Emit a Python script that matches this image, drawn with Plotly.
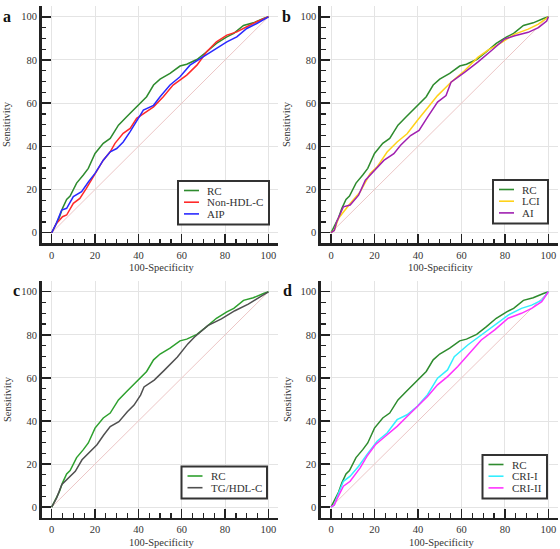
import plotly.graph_objects as go

# ---------------- data ----------------
rc_x = [0, 2, 3.5, 5, 6.9, 8.5, 11.5, 14.6, 16.9, 20, 23.8, 27, 29, 30.8, 34.6, 37.7, 40.8, 43.8, 47, 50, 54.6, 59.2, 62.3, 67, 71.5, 76, 80.8, 84, 88.5, 93, 97.7, 100]
rc_y = [0, 4, 7, 11.3, 15.4, 17, 23, 26.7, 29.8, 36.7, 41.4, 43.7, 46.8, 49.8, 53.7, 56.8, 60.2, 63, 68.4, 71.1, 73.8, 77.2, 78, 80.2, 83.8, 87.7, 90.7, 92.3, 96, 97.2, 99.2, 100]

nonhdl_x = [0, 2, 5, 6.9, 10, 13, 16, 20, 23.8, 27, 29.2, 33, 36.2, 39.2, 42.3, 47, 51.5, 56, 62.3, 67, 71.5, 76, 80.8, 85.4, 90, 94.6, 100]
nonhdl_y = [0, 4, 7.4, 8.2, 13.6, 15.9, 20.5, 27.5, 33.6, 37.5, 41.4, 46, 48.3, 53, 55.2, 58.3, 63, 68.4, 73, 77.6, 83.8, 88.4, 91.5, 93, 95.4, 97.7, 100]

aip_x = [0, 2, 4.6, 6.9, 10, 13.8, 17, 20, 23.8, 27, 30, 33, 36.2, 40, 42.3, 47, 50, 54.6, 59.2, 63.8, 68.5, 74.6, 80.8, 85.4, 90, 94.6, 100]
aip_y = [0, 4, 10.5, 11.3, 16.7, 19, 23.6, 27.5, 33.6, 37.5, 39, 42, 46.8, 53, 56.8, 59, 63, 68.4, 72.2, 77.6, 80.7, 84.6, 88.4, 90.7, 94.6, 96.9, 100]

lci_x = [0, 1.5, 3.4, 5.7, 8.8, 13.4, 18, 21.2, 25.8, 30.4, 35, 39.7, 44.4, 49, 55.2, 61.4, 67.5, 72.2, 78.4, 84.5, 90.7, 95.4, 100]
lci_y = [0, 1, 6.6, 9.7, 13.5, 18.9, 27.4, 30.5, 37.4, 42, 45.8, 52, 58, 63.5, 69.7, 75, 81.2, 84.6, 88, 92, 94.3, 96.6, 100]

ai_x = [0, 1.5, 2.6, 5.7, 8.8, 12.7, 15.8, 19.6, 24.3, 28.9, 32, 36.6, 40.5, 44.4, 49, 52.9, 55.2, 61.4, 67.5, 73.7, 79.9, 84.5, 90.7, 95.4, 99.2, 100]
ai_y = [0, 1, 5, 12, 12.8, 17.4, 24.3, 28.2, 33.5, 36.6, 40.5, 45, 47.4, 53.5, 60.5, 63.5, 69.7, 74.3, 79, 84.3, 89.7, 91.2, 92.8, 95, 98, 100]

tghdl_x = [0, 2.3, 4.7, 7.8, 10.9, 14, 17, 20.9, 24, 27, 31, 34.9, 38, 41, 42.6, 47.3, 51.9, 58, 62.8, 65.9, 72, 78.3, 84.5, 90.7, 96.9, 100]
tghdl_y = [0, 4.3, 10.5, 13.5, 16.6, 22, 25, 29, 33.5, 37.4, 39.7, 44.3, 47.4, 52, 55.8, 59, 63.5, 69.7, 75.8, 79, 84.3, 87.4, 91.2, 94.3, 98.1, 100]

cri1_x = [0, 1.5, 2.6, 5.7, 8.8, 12.7, 16.5, 21.2, 25.8, 30.4, 35, 39.7, 44.4, 49, 53.6, 56.7, 62.9, 69.1, 75.3, 81.5, 87.6, 92.3, 96.9, 100]
cri1_y = [0, 1, 4.3, 12, 14.4, 19, 24.4, 30.6, 34.4, 40.6, 42.9, 46.8, 52.2, 59.9, 63.7, 69.9, 75.3, 80, 84.6, 89.2, 92.3, 93.8, 96.1, 100]

cri2_x = [0, 1.5, 2.6, 5.7, 8.8, 13.4, 16.5, 20.4, 25, 30.4, 35, 39.7, 44.4, 49, 53.6, 58.3, 62.9, 69.1, 75.3, 81.5, 87.6, 92.3, 96.9, 100]
cri2_y = [0, 1, 3.5, 9.7, 12, 18.2, 23.6, 29, 32.9, 37.5, 42.1, 46.8, 51.4, 56.8, 60.6, 65.3, 70.7, 77.6, 82.3, 87.7, 90, 92.3, 95.4, 100]

ref_line = [0, 100]

tick_vals = [0, 20, 40, 60, 80, 100]
tick_text = ["0", "20", "40", "60", "80", "100"]

panels = [
    ("a", [("RC", rc_x, rc_y, "#2e8b2e"), ("Non-HDL-C", nonhdl_x, nonhdl_y, "#ff2a2a"), ("AIP", aip_x, aip_y, "#2a2aff")]),
    ("b", [("RC", rc_x, rc_y, "#2e8b2e"), ("LCI", lci_x, lci_y, "#ffd21a"), ("AI", ai_x, ai_y, "#a020b0")]),
    ("c", [("RC", rc_x, rc_y, "#2ea02e"), ("TG/HDL-C", tghdl_x, tghdl_y, "#505050")]),
    ("d", [("RC", rc_x, rc_y, "#2e8b2e"), ("CRI-I", cri1_x, cri1_y, "#33eeff"), ("CRI-II", cri2_x, cri2_y, "#ff33ff")]),
]

# ---------------- layout geometry (pixels) ----------------
W, H = 560, 549
xdom_px = [(41.7, 278), (321, 558)]
ydom_px = [(6, 243.3), (281, 517.7)]
# legend boxes: left, top, right (px)
legend_box = [(178, 181, 269), (493, 180, 548), (181.5, 466.5, 267), (482.5, 455, 547)]
letter_pos = [(7, 16.5), (286, 16.5), (16, 290), (287, 290)]
xtitle_pos = [(161, 267), (440, 267), (161, 542), (441, 542)]
ytitle_pos = [(7, 124), (287, 124), (7, 399), (287, 399)]

FONT = "Liberation Serif"
FS = 10.5
TXT = "#333"

def px(x):
    return x / W

def py(y):
    return 1 - y / H

fig = go.Figure()
layout = dict(
    width=W, height=H,
    margin=dict(l=0, r=0, t=0, b=0, autoexpand=False),
    paper_bgcolor="white", plot_bgcolor="white",
    font=dict(family=FONT, size=FS, color=TXT),
    showlegend=False,
)

annotations = []
shapes = []
for i, (letter, series) in enumerate(panels):
    r, c = divmod(i, 2)
    ax = "" if i == 0 else str(i + 1)
    xa, ya = "x" + ax, "y" + ax
    fig.add_trace(go.Scatter(x=ref_line, y=ref_line, mode="lines",
                             line=dict(color="#ecc6c6", width=1),
                             xaxis=xa, yaxis=ya, hoverinfo="skip"))
    for name, sx, sy, col in series:
        fig.add_trace(go.Scatter(x=sx, y=sy, mode="lines", name=name,
                                 line=dict(color=col, width=1.5),
                                 xaxis=xa, yaxis=ya))
    axis_common = dict(
        tickvals=tick_vals, ticktext=tick_text,
        showgrid=True, gridcolor="#e4e4e4", gridwidth=1, zeroline=False,
        showline=True, linecolor="#222", linewidth=2.7,
        ticks="inside", ticklen=9, tickwidth=1.4, tickcolor="#222",
        minor=dict(dtick=5, ticks="inside", ticklen=4.5, tickwidth=1.2, tickcolor="#222", showgrid=False),
        tickfont=dict(family=FONT, size=FS, color=TXT),
        fixedrange=True, automargin=False,
    )
    x0, x1 = xdom_px[c]
    y0, y1 = ydom_px[r]
    layout["xaxis" + ax] = dict(axis_common, domain=[px(x0), px(x1)], anchor=ya, range=[-4.6, 104.4])
    layout["yaxis" + ax] = dict(axis_common, domain=[py(y1), py(y0)], anchor=xa, range=[-4.9, 105])

    # axis titles
    tx, ty = xtitle_pos[i]
    annotations.append(dict(text="100-Specificity", x=px(tx), y=py(ty), xref="paper", yref="paper",
                            showarrow=False, xanchor="center", yanchor="middle",
                            font=dict(family=FONT, size=FS, color=TXT)))
    tx, ty = ytitle_pos[i]
    annotations.append(dict(text="Sensitivity", x=px(tx), y=py(ty), xref="paper", yref="paper",
                            showarrow=False, xanchor="center", yanchor="middle", textangle=-90,
                            font=dict(family=FONT, size=FS, color=TXT)))
    # panel letter
    lx, ly = letter_pos[i]
    annotations.append(dict(text="<b>" + letter + "</b>", x=px(lx), y=py(ly),
                            xref="paper", yref="paper", showarrow=False,
                            xanchor="center", yanchor="middle",
                            font=dict(family=FONT, size=16, color="#111")))

    # legend box
    bl, bt, br = legend_box[i]
    n = len(series)
    step = 11.7
    bb = bt + 7 + n * step + 1.5
    shapes.append(dict(type="rect", xref="paper", yref="paper",
                       x0=px(bl), x1=px(br), y0=py(bb), y1=py(bt),
                       line=dict(color="#333", width=2), fillcolor="white", layer="above"))
    for k, (name, sx, sy, col) in enumerate(series):
        yy = bt + 9.5 + k * step
        shapes.append(dict(type="line", xref="paper", yref="paper",
                           x0=px(bl + 6), x1=px(bl + 21), y0=py(yy), y1=py(yy),
                           line=dict(color=col, width=1.6), layer="above"))
        annotations.append(dict(text=name, x=px(bl + 27), y=py(yy), xref="paper", yref="paper",
                                showarrow=False, xanchor="left", yanchor="middle",
                                font=dict(family=FONT, size=FS + 0.5, color=TXT)))

layout["annotations"] = annotations
layout["shapes"] = shapes
fig.update_layout(**layout)
fig.write_html("out.html",
               config={"displayModeBar": False, "staticPlot": True},
               post_script="document.body.style.margin='0';document.body.style.padding='0';document.body.style.overflow='hidden';")
